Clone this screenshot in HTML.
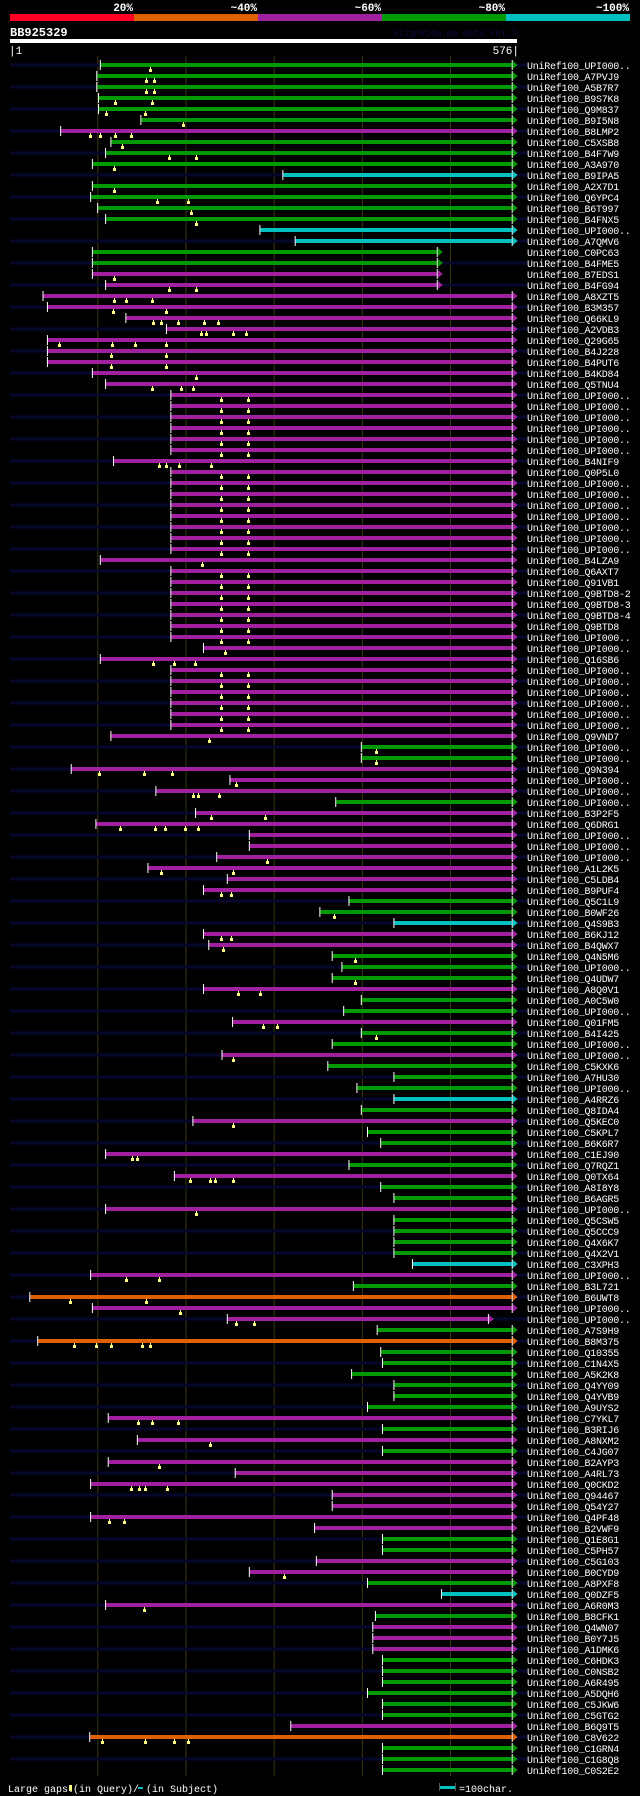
<!DOCTYPE html>
<html><head><meta charset="utf-8">
<style>
html,body{margin:0;padding:0;background:#000;}
body{width:640px;height:1796px;overflow:hidden;position:relative;}
svg{position:absolute;left:0;top:0;}
text{font-family:"Liberation Mono",monospace;}
</style></head>
<body>
<svg id="chart" width="640" height="1796" viewBox="0 0 640 1796"></svg>
<script>
// ---- data ----
const queryName = "BB925329";
const queryLength = 576;
const scoreLabels = ["20%","~40%","~60%","~80%","~100%"];
const scoreColors = ["#ff0024","#e06000","#a020a0","#009a00","#00c0c0"];
const gridTicks = [100,200,300,400,500];
const U = "UPI000..";
const names = [U,"A7PVJ9","A5B7R7","B9S7K8","Q9M837","B9I5N8","B8LMP2","C5XSB8","B4F7W9","A3A970",
"B9IPA5","A2X7D1","Q6YPC4","B6T997","B4FNX5",U,"A7QMV6","C0PC63","B4FME5","B7EDS1",
"B4FG94","A8XZT5","B3M357","Q66KL9","A2VDB3","Q29G65","B4J228","B4PUT6","B4KD84","Q5TNU4",
U,U,U,U,U,U,"B4NIF9","Q0P5L0",U,U,
U,U,U,U,U,"B4LZA9","Q6AXT7","Q91VB1","Q9BTD8-2","Q9BTD8-3",
"Q9BTD8-4","Q9BTD8",U,U,"Q16SB6",U,U,U,U,U,
U,"Q9VND7",U,U,"Q9N394",U,U,U,"B3P2F5","Q6DRG1",
U,U,U,"A1L2K5","C5LDB4","B9PUF4","Q5C1L9","B0WF26","Q4S9B3","B6KJ12",
"B4QWX7","Q4N5M6",U,"Q4UDW7","A8Q0V1","A0C5W0",U,"Q01FM5","B4I425",U,
U,"C5KXK6","A7HU30",U,"A4RRZ6","Q8IDA4","Q5KEC0","C5KPL7","B6K6R7","C1EJ90",
"Q7RQZ1","Q0TX64","A8I8Y8","B6AGR5",U,"Q5CSW5","Q5CCC9","Q4X6K7","Q4X2V1","C3XPH3",
U,"B3L721","B6UWT8",U,U,"A7S9H9","B8M375","Q10355","C1N4X5","A5K2K8",
"Q4YY09","Q4YVB9","A9UYS2","C7YKL7","B3RIJ6","A8NXM2","C4JG07","B2AYP3","A4RL73","Q0CKD2",
"Q94467","Q54Y27","Q4PF48","B2VWF9","Q1E8G1","C5PH57","C5G103","B0CYD9","A8PXF8","Q0DZF5",
"A6R0M3","B8CFK1","Q4WN07","B0Y7J5","A1DMK6","C6HDK3","C0NSB2","A6R495","A5DQH6","C5JKW6",
"C5GTG2","B6Q9T5","C8V622","C1GRN4","C1G8Q8","C0S2E2"];
const scoreClass = ("gggggg"+"p"+"ggg"+"c"+"gggg"+"cc"+"gg"+"pp"+"p".repeat(41)+"gg"+"ppp"+"g"+"pppppppp"+"gg"+"c"+"pp"+"ggg"+"p"+"gg"+"p"+"gg"+"p"+"ggg"+"c"+"g"+"p"+"gg"+"p"+"g"+"p"+"gg"+"p"+"gggg"+"c"+"p"+"g"+"o"+"pp"+"g"+"o"+"gggggg"+"p"+"g"+"p"+"g"+"ppppppp"+"gg"+"pp"+"g"+"c"+"p"+"g"+"ppp"+"gggggg"+"p"+"o"+"ggg").split("");
const starts = [104,100,100,102,102,150,59,116,110,95,
311,95,93,101,110,285,325,95,95,95,
110,39,44,133,179,44,44,44,95,110,
184,184,184,184,184,184,119,184,184,184,
184,184,184,184,184,104,184,184,184,184,
184,184,184,221,104,184,184,184,184,184,
184,116,400,400,71,251,167,371,212,99,
273,273,236,158,248,221,386,353,437,221,
227,367,378,367,221,400,380,254,400,367,
242,362,437,395,437,400,209,407,422,110,
386,188,422,437,110,437,437,437,437,458,
93,391,24,95,248,418,33,422,424,389,
437,437,407,113,424,146,424,113,257,93,
367,367,93,347,424,424,349,273,407,491,
110,416,413,413,413,424,424,424,407,424,
424,320,92,424,424,424];
const ends = starts.map((s,i)=> (i>=17&&i<=20)?485:(i===114?543:570));
const gapsByRow = {0:[160],1:[155,164],2:[155,164],3:[120,162],4:[110,154],5:[197],
6:[92,103,120,138],7:[128],8:[181,212],9:[119],11:[119],12:[168,203],13:[206],14:[212],19:[119],20:[181,212],
21:[119,132,162],22:[118,178],23:[163,172,192,221,237],24:[218,223,254,269],25:[57,117,143,178],26:[115,178],27:[115,178],
28:[212],29:[162,195,209],36:[170,178,193,229],45:[219],53:[245],54:[163,187,211],61:[227],62:[416],63:[416],
64:[102,153,185],65:[257],66:[208,214,238],68:[229,290],69:[126,166,177,200,214],72:[293],73:[172,254],75:[240,252],77:[369],
79:[240,252],80:[243],81:[392],83:[392],84:[260,285],87:[288,304],88:[416],90:[254],96:[254],99:[139,145],101:[205,228,234,254],104:[212],
110:[133,170],112:[69,155],113:[194],114:[257,278],116:[74,98,115,151,160],123:[146,162,191],125:[228],127:[170],129:[138,147,154,179],
132:[113,130],137:[312],140:[153],152:[105,154,187,203]};
[30,31,32,33,34,35,37,38,39,40,41,42,43,44,46,47,48,49,50,51,52,55,56,57,58,59,60].forEach(r=>{gapsByRow[r]=[240,271];});

// ---- drawing ----
const svg = document.getElementById('chart');
const NS = "http://www.w3.org/2000/svg";
const colorMap = {g:"#009a00",p:"#a020a0",c:"#00c0c0",o:"#e06000",r:"#ff0024"};
const X0 = 10, X1 = 517;
function xScale(pos){ return X0 + (pos-1)*(X1-X0)/(queryLength-1); }
function yRow(i){ return 65 + 11*i; }
function mk(tag, attrs, parent){ const e=document.createElementNS(NS,tag); for(const k in attrs) e.setAttribute(k,attrs[k]); (parent||svg).appendChild(e); return e; }

// score legend
const segW = (630-10)/scoreLabels.length;
scoreLabels.forEach((lab,k)=>{
  const r = mk('rect',{x:10+k*segW,y:14,width:segW,height:7,fill:scoreColors[k]});
  
  
  const t = mk('text',{x:10+(k+1)*segW-1,y:11,fill:'#fff','font-size':11,'font-weight':'bold','text-anchor':'end'});
  t.textContent = lab;
  
  
});
const qn = mk('text',{x:10,y:36,fill:'#fff','font-size':12,'font-weight':'bold'});
qn.textContent = queryName;


const ver = mk('text',{x:517,y:36,fill:'#0c0c40','font-size':9,'text-anchor':'end'});
ver.textContent = "AlignView.pm Beta rel.7";


const qb = mk('rect',{x:X0,y:39,width:X1-X0,height:4,fill:'#fff'});


const t1 = mk('text',{x:9,y:54,fill:'#fff','font-size':11});
t1.textContent = "|1";


const t2 = mk('text',{x:519,y:54,fill:'#fff','font-size':11,'text-anchor':'end'});
t2.textContent = queryLength+"|";



// gridlines
gridTicks.forEach(p=>{
  const l = mk('line',{x1:xScale(p)+0.5,x2:xScale(p)+0.5,y1:56,y2:1776,stroke:'#3a3a12','stroke-width':1});
  
  
});

// rows
names.forEach((nm,i)=>{
  const y = yRow(i);
  const g = mk('g',{});
  
  
  if(i%2===0){
    const bg = mk('rect',{x:X0,y:y-1.5,width:527-X0,height:3,fill:'#07072e'},g);
    
    
  }
  const col = colorMap[scoreClass[i]]||'#a020a0';
  const xs = xScale(starts[i]), xe = xScale(ends[i]);
  const bar = mk('rect',{x:xs,y:y-2,width:xe-xs,height:4,fill:col},g);
  
  
  const st = mk('rect',{x:xs-1,y:y-5,width:1,height:10,fill:'#fff'},g);
  
  
  const et = mk('rect',{x:xe,y:y-5,width:1,height:10,fill:'#fff'},g);
  
  
  const ar = mk('polygon',{points:(xe+1)+','+(y-4)+' '+(xe+6)+','+y+' '+(xe+1)+','+(y+4),fill:col},g);
  
  
  (gapsByRow[i]||[]).forEach(p=>{
    const gx = Math.round(xScale(p));
    const gm = mk('rect',{x:gx,y:y+2,width:1,height:2,fill:'#ffff88'},g);
    
    
    const gb = mk('rect',{x:gx-1,y:y+4,width:3,height:3,fill:'#ffff88'},g);
    
    
  });
  const lab = mk('text',{x:527,y:y+4,fill:'#fff','font-size':10,'letter-spacing':'-0.25'},g);
  lab.textContent = "UniRef100_"+nm;
  
  
});

// footer legend
const f1 = mk('text',{x:8,y:1792,fill:'#fff','font-size':10});
f1.textContent = "Large gaps:";


const fm = mk('rect',{x:69,y:1785,width:3,height:6,fill:'#ffff88'});


const f2 = mk('text',{x:73,y:1792,fill:'#fff','font-size':10});
f2.textContent = "(in Query)/";


const fd = mk('rect',{x:138,y:1787,width:5,height:2,fill:'#00c0c0'});


const f3 = mk('text',{x:146,y:1792,fill:'#fff','font-size':10});
f3.textContent = "(in Subject)";


const sb = mk('rect',{x:440,y:1786,width:15,height:3,fill:'#00c0c0'});


const sl = mk('rect',{x:439,y:1783,width:1,height:8,fill:'#555'});


const sr = mk('rect',{x:455,y:1783,width:1,height:8,fill:'#555'});


const f4 = mk('text',{x:459,y:1792,fill:'#fff','font-size':10});
f4.textContent = "=100char.";


</script>
</body></html>
